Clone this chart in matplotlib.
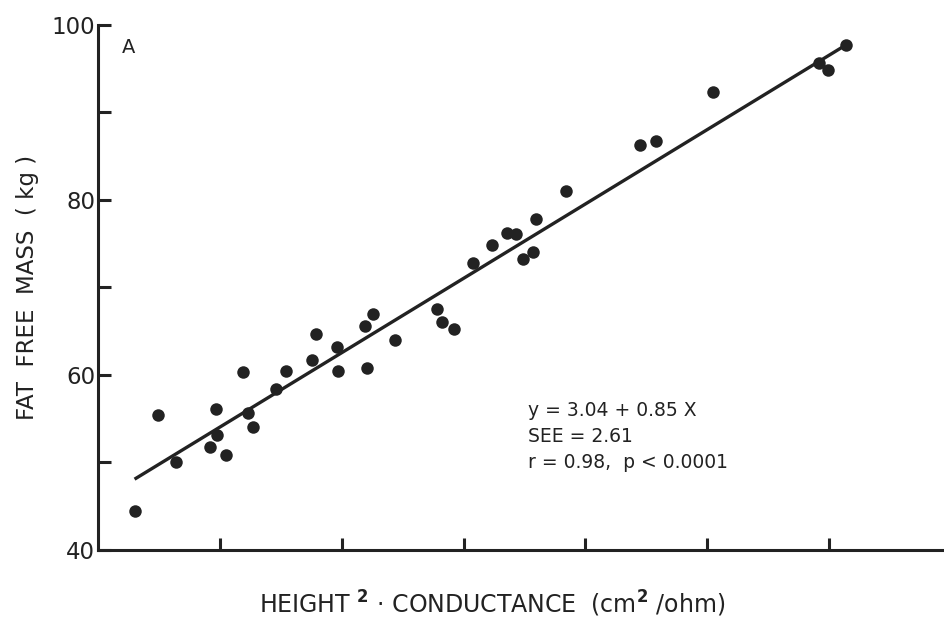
import numpy as np
import matplotlib.pyplot as plt

# height^2 * conductance (cm2/ohm) vs fat free mass (kg)
conductance = [53.0, 54.9, 56.4, 59.7, 59.2, 59.8, 60.5, 61.9, 62.3, 62.7,
               64.6, 65.4, 67.9, 67.6, 69.7, 69.6, 72.1, 71.9, 72.6, 74.4,
               77.8, 78.2, 79.2, 80.8, 82.3, 83.6, 84.3, 84.9, 85.7, 85.9,
               88.4, 94.5, 95.8, 100.5, 109.2, 109.9, 111.4]
ffm = [44.5, 55.4, 50.0, 56.1, 51.8, 53.1, 50.8, 60.3, 55.6, 54.0,
       58.4, 60.5, 64.7, 61.7, 60.5, 63.2, 60.8, 65.6, 67.0, 64.0,
       67.5, 66.1, 65.2, 72.8, 74.9, 76.2, 76.1, 73.2, 74.0, 77.8,
       81.0, 86.3, 86.7, 92.3, 95.6, 94.9, 97.7]

intercept = 3.04
slope = 0.85
see = 2.61
r = 0.98

ink = '#222222'
plt.rcParams['font.family'] = ['DejaVu Sans']

fig = plt.figure(figsize=(9.45, 6.22), dpi=100)
ax = fig.add_axes([0.1037, 0.1158, 0.8963, 0.8442])

ax.plot(conductance, ffm, 'o', color=ink, markersize=9, markeredgewidth=0)
xs = np.array([min(conductance), max(conductance)])
ax.plot(xs, intercept + slope * xs, color=ink, lw=2.4, solid_capstyle='butt')

ax.set_xlim(50, 119.5)
ax.set_ylim(40, 100)
ax.set_xticks([60, 70, 80, 90, 100, 110])
ax.set_xticklabels([])
ax.set_yticks([40, 60, 80, 100])
ax.set_yticks([50, 70, 90], minor=True)

for s in ['top', 'right']:
    ax.spines[s].set_visible(False)
for s in ['left', 'bottom']:
    ax.spines[s].set_linewidth(2.2)
    ax.spines[s].set_color(ink)

ax.tick_params(axis='both', which='both', direction='in', width=2.2,
               length=9, color=ink, labelcolor=ink)
ax.tick_params(axis='y', labelsize=16.5, pad=2)

ax.text(0.028, 0.975, 'A', transform=ax.transAxes, fontsize=14, color=ink,
        va='top', ha='left')
ax.text(85.3, 57.0, 'y = %.2f + %.2f X\nSEE = %.2f\nr = %.2f,  p < 0.0001'
        % (intercept, slope, see, r),
        fontsize=13.5, color=ink, va='top', ha='left', linespacing=1.45)

fig.text(28 / 945, 1 - 287 / 622, 'FAT  FREE  MASS  ( kg )', rotation=90,
         fontsize=16.5, color=ink, ha='center', va='center')
fig.text(492 / 945, 1 - 604 / 622,
         'HEIGHT $^{\\mathbf{2}}$ · CONDUCTANCE  (cm$^{\\mathbf{2}}$ /ohm)',
         fontsize=17, color=ink, ha='center', va='center')

fig.savefig('out.png', dpi=100)
